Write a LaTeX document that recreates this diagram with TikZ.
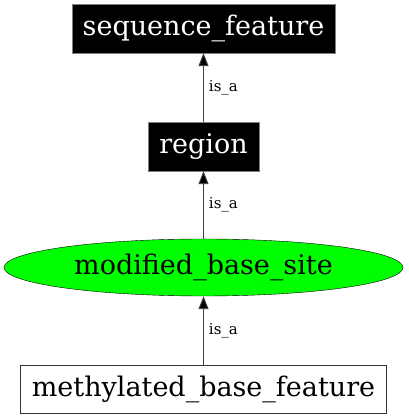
\documentclass[tikz,border=0pt]{standalone}
\usepackage{fontspec}
\setmainfont{DejaVu Serif}
\usetikzlibrary{arrows.meta,shapes.geometric}
\begin{document}
\begin{tikzpicture}[x=1pt,y=1pt,
  blackbox/.style={rectangle,fill=black,draw=gray,text=white,inner sep=0pt,
    font=\fontsize{27}{32}\selectfont},
  whitebox/.style={rectangle,fill=white,draw=black!80,line width=0.8pt,inner sep=0pt,
    font=\fontsize{27}{32}\selectfont},
  greenell/.style={ellipse,fill=green,draw=black,inner sep=0pt,
    font=\fontsize{27}{32}\selectfont},
  isa/.style={draw=black!75,line width=0.9pt,-{Triangle[length=13pt,width=10pt,fill=black]}},
  lbl/.style={font=\fontsize{15}{18}\selectfont,anchor=west,inner sep=0pt}
]
\useasboundingbox (0,0) rectangle (408,419);
\node[blackbox,minimum width=263pt,minimum height=49pt] (sf) at (203.5,390.5) {sequence\_feature};
\node[blackbox,minimum width=111pt,minimum height=49pt] (rg) at (203.5,272.5) {region};
\node[greenell,minimum width=399pt,minimum height=57pt] (mbs) at (203.5,151.5) {modified\_base\_site};
\node[whitebox,minimum width=366pt,minimum height=48pt] (mbf) at (203.5,30) {methylated\_base\_feature};
\draw[isa] (rg) -- node[lbl,pos=0.5,xshift=5pt] {is\_a} (sf);
\draw[isa] (mbs) -- node[lbl,pos=0.5,xshift=5pt] {is\_a} (rg);
\draw[isa] (mbf) -- node[lbl,pos=0.5,xshift=5pt] {is\_a} (mbs);
\end{tikzpicture}
\end{document}
